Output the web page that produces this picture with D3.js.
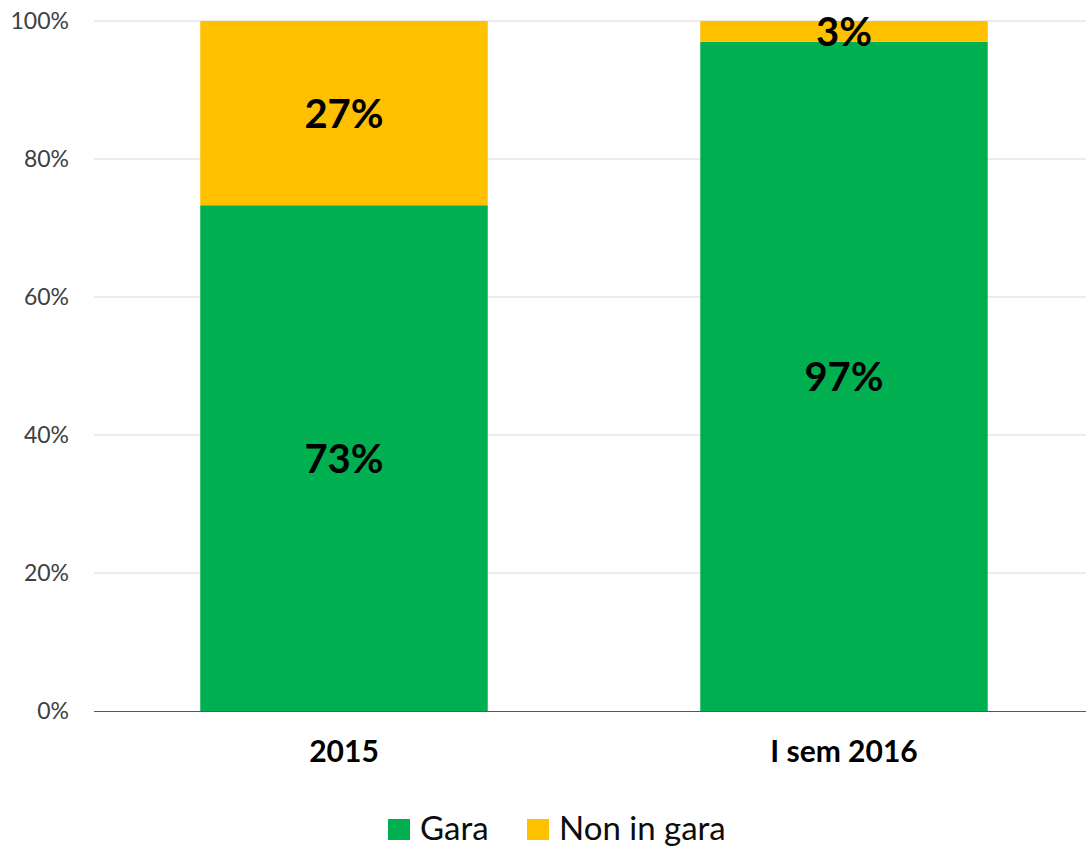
<!DOCTYPE html>
<html><head><meta charset="utf-8">
<script src="https://cdn.jsdelivr.net/npm/d3@7"></script>
<style>body{margin:0;background:#fff;} svg{display:block;font-family:Lato, "Open Sans", sans-serif;}</style>
</head><body>
<svg id="c" width="1086" height="848"></svg>
<script>
const categories = ["2015", "I sem 2016"];
const seriesNames = ["Gara", "Non in gara"];
const gara = [0.733, 0.97];
const nonInGara = [0.267, 0.03];
const garaLabels = ["73%", "97%"];
const nonLabels = ["27%", "3%"];
const yTicks = [0, 0.2, 0.4, 0.6, 0.8, 1.0];
const colors = ["#00B050", "#FFC000"];

const svg = d3.select("#c");
const x = d3.scaleBand().domain(categories).range([94, 1094]).paddingInner(0.425).paddingOuter(0.2125);
const y = d3.scaleLinear().domain([0, 1]).range([711, 21]);

// gridlines
svg.append("g").selectAll("line").data(yTicks.filter(d => d > 0)).join("line")
  .attr("x1", 94).attr("x2", 1086).attr("y1", d => y(d)).attr("y2", d => y(d))
  .attr("stroke", "#d9d9d9").attr("stroke-width", 1);

const rows = categories.map((c, i) => ({cat: c, Gara: gara[i], "Non in gara": nonInGara[i], gl: garaLabels[i], nl: nonLabels[i]}));
const stacked = d3.stack().keys(seriesNames)(rows);

svg.append("g").selectAll("g").data(stacked).join("g")
  .attr("fill", (d, i) => colors[i])
  .selectAll("rect").data(d => d).join("rect")
  .attr("x", d => x(d.data.cat)).attr("width", x.bandwidth())
  .attr("y", d => y(d[1])).attr("height", d => y(d[0]) - y(d[1]));

// data labels
stacked.forEach((s, si) => {
  svg.append("g").selectAll("text").data(s).join("text")
    .attr("x", d => x(d.data.cat) + x.bandwidth() / 2)
    .attr("y", d => y((d[0] + d[1]) / 2))
    .attr("dy", "0.36em")
    .attr("text-anchor", "middle")
    .attr("font-size", 40).attr("font-weight", "bold").attr("fill", "#000")
    .text(d => si === 0 ? d.data.gl : d.data.nl);
});

// y axis
const yAxis = svg.append("g").attr("transform", "translate(94,0)")
  .call(d3.axisLeft(y).tickValues(yTicks).tickFormat(d3.format(".0%")).tickSize(0).tickPadding(25));
yAxis.select(".domain").remove();
yAxis.selectAll("text").attr("font-size", 23).attr("fill", "#404040").attr("font-family", "Lato, sans-serif");

// x axis
const xAxis = svg.append("g").attr("transform", "translate(0,711)")
  .call(d3.axisBottom(x).tickSize(0).tickPadding(30));
xAxis.select(".domain").attr("d", "M94,0.5H1086").attr("stroke", "#595959").attr("stroke-width", 1);
xAxis.selectAll("text").attr("font-size", 30).attr("font-weight", "bold").attr("fill", "#000").attr("font-family", "Lato, sans-serif");

// legend
const legend = svg.append("g");
const items = [{name: seriesNames[0], c: colors[0], x: 388}, {name: seriesNames[1], c: colors[1], x: 527}];
items.forEach(it => {
  legend.append("rect").attr("x", it.x).attr("y", 819).attr("width", 22).attr("height", 21).attr("fill", it.c);
  legend.append("text").attr("x", it.x + 32).attr("y", 840)
    .attr("font-size", 33).attr("fill", "#0d0d0d").text(it.name);
});
</script>
</body></html>
